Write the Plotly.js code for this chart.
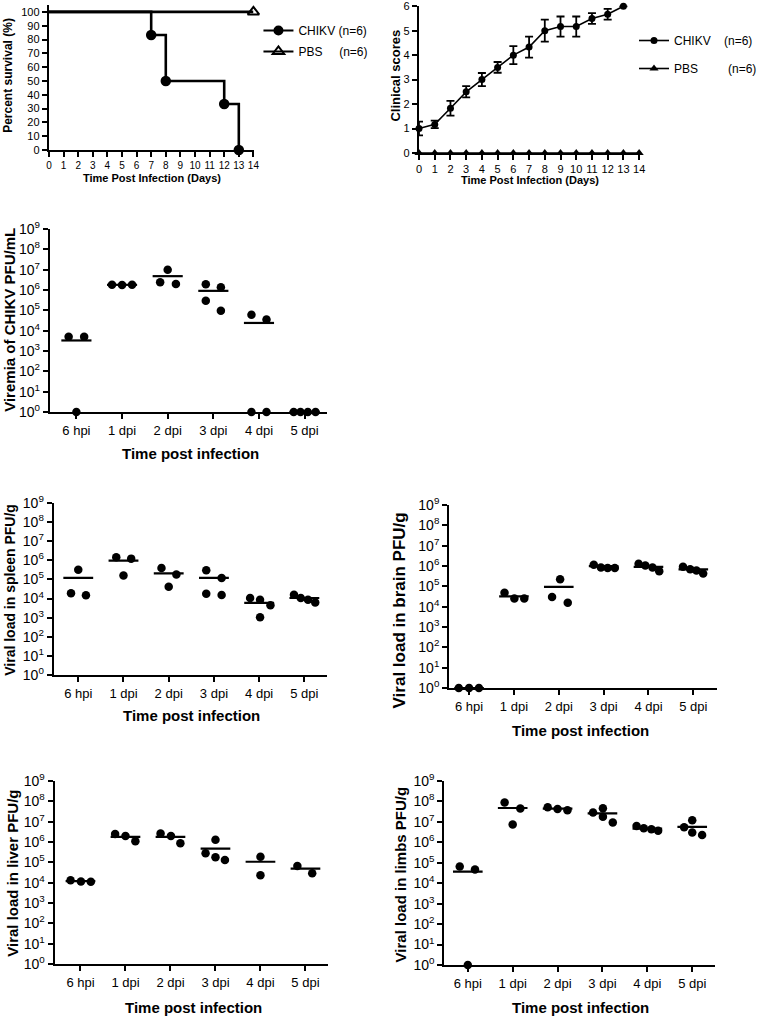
<!DOCTYPE html>
<html><head><meta charset="utf-8">
<script src="https://cdn.plot.ly/plotly-3.0.1.min.js"></script>
<style>html,body{margin:0;padding:0;background:#fff}</style>
</head><body><div id="chart" style="width:762px;height:1017px"></div>
<script>
// ---------------- DATA ----------------
const survDays = [0, 7, 8, 12, 13];
const survCHIKV = [100, 83.3, 50, 33.3, 0];
const survPBSDays = [0, 14];
const survPBS = [100, 100];

const clinDays = [0, 1, 2, 3, 4, 5, 6, 7, 8, 9, 10, 11, 12, 13];
const clinCHIKV = [1.0, 1.17, 1.83, 2.5, 3.0, 3.5, 4.0, 4.33, 5.0, 5.17, 5.17, 5.5, 5.67, 6.0];
const clinCHIKVerr = [0.28, 0.15, 0.3, 0.23, 0.27, 0.22, 0.37, 0.43, 0.45, 0.41, 0.41, 0.22, 0.22, 0];
const clinPBSDays = [0, 1, 2, 3, 4, 5, 6, 7, 8, 9, 10, 11, 12, 13, 14];
const clinPBS = [0, 0, 0, 0, 0, 0, 0, 0, 0, 0, 0, 0, 0, 0, 0];

const categories = ['6 hpi', '1 dpi', '2 dpi', '3 dpi', '4 dpi', '5 dpi'];
const logTickLabels = ['10<sup>0</sup>', '10<sup>1</sup>', '10<sup>2</sup>', '10<sup>3</sup>', '10<sup>4</sup>', '10<sup>5</sup>', '10<sup>6</sup>', '10<sup>7</sup>', '10<sup>8</sup>', '10<sup>9</sup>'];

const viremiaValues = [[5e3, 5e3, 1], [1.8e6, 1.75e6, 1.8e6], [1e7, 2.4e6, 2e6], [1.9e6, 1.35e6, 3e5, 9.6e4], [6e4, 3.5e4, 1, 1], [1, 1, 1, 1]];
const viremiaMeans = [3.3e3, 1.8e6, 4.8e6, 9.1e5, 2.4e4, 1];

const spleenValues = [[3.2e5, 1.9e4, 1.5e4], [1.45e6, 1.23e6, 1.6e5], [4e5, 1.8e5, 4.1e4], [3e5, 1.2e5, 1.8e4, 1.55e4], [1.07e4, 8.7e3, 4.5e3, 1.05e3], [1.6e4, 1.07e4, 8.7e3, 6.3e3]];
const spleenMeans = [1.2e5, 9.7e5, 2.1e5, 1.2e5, 5.9e3, 1.07e4];

const brainValues = [[1, 1, 1], [4.8e4, 2.5e4, 2.5e4], [2.25e5, 3e4, 1.55e4], [1.15e6, 8.5e5, 7.9e5, 7.9e5], [1.3e6, 1.07e6, 8.5e5, 5.6e5], [9.1e5, 7e5, 6e5, 4.3e5]];
const brainMeans = [1, 3.2e4, 9.5e4, 9.8e5, 9.1e5, 6.8e5];

const liverValues = [[1.3e4, 1.15e4, 1.1e4], [2.5e6, 2e6, 1.1e6], [2.6e6, 2e6, 8.6e5], [1.3e6, 2.8e5, 1.8e5, 1.3e5], [1.9e5, 2.3e4], [6.6e4, 2.9e4]];
const liverMeans = [1.18e4, 1.8e6, 1.8e6, 4.7e5, 1.07e5, 4.9e4];

const limbsValues = [[6.5e4, 4.7e4, 1], [8.8e7, 4.5e7, 7.4e6], [5.2e7, 4.3e7, 3.7e7], [2.9e7, 4.6e7, 1.8e7, 9.3e6], [6.3e6, 4.9e6, 4.4e6, 3.7e6], [1.2e7, 5.5e6, 3e6, 2.3e6]];
const limbsMeans = [3.7e4, 4.8e7, 4.5e7, 2.6e7, 4.7e6, 5.7e6];

// ---------------- LAYOUT HELPERS (dot spreading within a column, category units) ----------------
const viremiaSpread = [[-0.17, 0.17, 0], [-0.22, 0, 0.22], [0, -0.165, 0.18], [-0.165, 0.165, -0.165, 0.165], [-0.165, 0.165, -0.165, 0.165], [-0.24, -0.09, 0.07, 0.24]];
const spleenSpread = [[0, -0.16, 0.17], [-0.16, 0.17, 0], [-0.16, 0.17, 0], [-0.17, 0.17, -0.17, 0.17], [-0.2, 0.02, 0.25, 0.02], [-0.23, -0.08, 0.08, 0.24]];
const brainSpread = [[-0.23, 0, 0.22], [-0.21, 0.01, 0.23], [0.03, -0.15, 0.2], [-0.22, -0.06, 0.09, 0.25], [-0.22, -0.07, 0.09, 0.24], [-0.23, -0.07, 0.07, 0.22]];
const liverSpread = [[-0.22, 0.01, 0.23], [-0.23, 0, 0.22], [-0.22, 0.01, 0.22], [0, -0.22, 0, 0.21], [0, 0], [-0.18, 0.15]];
const limbsSpread = [[-0.18, 0.16, 0], [-0.18, 0.17, 0], [-0.22, 0, 0.22], [-0.21, 0.01, 0.01, 0.23], [-0.24, -0.08, 0.09, 0.24], [0, -0.18, 0, 0.22]];

const W = 762, H = 1017;
const FONT = 'Liberation Sans, Arial, Helvetica, sans-serif';
const xd = (a, b) => [a / W, b / W];
const yd = (t, b) => [1 - b / H, 1 - t / H];

const traces = [];

// Survival
traces.push({x: survDays, y: survCHIKV, xaxis: 'x', yaxis: 'y', mode: 'lines', line: {shape: 'hv', color: '#000', width: 2.6}, showlegend: false, cliponaxis: false, hoverinfo: 'skip'});
traces.push({x: survDays.slice(1), y: survCHIKV.slice(1), xaxis: 'x', yaxis: 'y', mode: 'markers', marker: {symbol: 'circle', size: 10.5, color: '#000'}, showlegend: false, cliponaxis: false});
traces.push({x: survPBSDays, y: survPBS, xaxis: 'x', yaxis: 'y', mode: 'lines', line: {color: '#000', width: 2.6}, showlegend: false, cliponaxis: false, hoverinfo: 'skip'});
traces.push({x: survPBSDays.slice(-1), y: survPBS.slice(-1), xaxis: 'x', yaxis: 'y', mode: 'markers', marker: {symbol: 'triangle-up-open', size: 10, color: '#000', line: {width: 2, color: '#000'}}, showlegend: false, cliponaxis: false});
// legend entries for survival
traces.push({x: [null], y: [null], xaxis: 'x', yaxis: 'y', mode: 'lines+markers', name: 'CHIKV (n=6)', legend: 'legend', legendgroup: 'a1', marker: {symbol: 'circle', size: 10, color: '#000'}, line: {color: '#000', width: 2.2}});
traces.push({x: [null], y: [null], xaxis: 'x', yaxis: 'y', mode: 'lines+markers', name: 'PBS\u00a0\u00a0\u00a0\u00a0\u00a0(n=6)', legend: 'legend', legendgroup: 'a2', marker: {symbol: 'triangle-up-open', size: 10, color: '#000', line: {width: 2, color: '#000'}}, line: {color: '#000', width: 2.2}});

// Clinical scores
traces.push({x: clinDays, y: clinCHIKV, xaxis: 'x2', yaxis: 'y2', mode: 'lines+markers', name: 'CHIKV\u00a0\u00a0\u00a0\u00a0(n=6)', legend: 'legend2', legendgroup: 'b1',
  marker: {symbol: 'circle', size: 7, color: '#000'}, line: {color: '#000', width: 1.6},
  error_y: {type: 'data', array: clinCHIKVerr, visible: true, color: '#000', thickness: 1.8, width: 4}, cliponaxis: false});
traces.push({x: clinPBSDays, y: clinPBS, xaxis: 'x2', yaxis: 'y2', mode: 'lines+markers', name: 'PBS\u00a0\u00a0\u00a0\u00a0\u00a0\u00a0\u00a0\u00a0\u00a0(n=6)', legend: 'legend2', legendgroup: 'b2',
  marker: {symbol: 'triangle-up', size: 8, color: '#000'}, line: {color: '#000', width: 1.6}, cliponaxis: false});

// Scatter panels
function panel(values, means, spread, xa, ya) {
  const px = [], py = [], mx = [], my = [];
  values.forEach((grp, g) => grp.forEach((v, k) => { px.push(g + spread[g][k]); py.push(v); }));
  means.forEach((m, g) => { mx.push(g - 0.33, g + 0.33, null); my.push(m, m, null); });
  traces.push({x: mx, y: my, xaxis: xa, yaxis: ya, mode: 'lines', line: {color: '#000', width: 2.2}, showlegend: false, cliponaxis: false, hoverinfo: 'skip'});
  traces.push({x: px, y: py, xaxis: xa, yaxis: ya, mode: 'markers', marker: {symbol: 'circle', size: 8.5, color: '#000'}, showlegend: false, cliponaxis: false});
}
panel(viremiaValues, viremiaMeans, viremiaSpread, 'x3', 'y3');
panel(spleenValues, spleenMeans, spleenSpread, 'x4', 'y4');
panel(brainValues, brainMeans, brainSpread, 'x5', 'y5');
panel(liverValues, liverMeans, liverSpread, 'x6', 'y6');
panel(limbsValues, limbsMeans, limbsSpread, 'x7', 'y7');

const axBase = {showgrid: false, zeroline: false, showline: true, linecolor: '#000', linewidth: 2.2, ticks: 'outside', ticklen: 5, tickwidth: 2, tickcolor: '#000', fixedrange: true, ticklabeloverflow: 'allow'};
const logTicks = [1, 10, 100, 1e3, 1e4, 1e5, 1e6, 1e7, 1e8, 1e9];
function logY(dom, anchor) {
  return Object.assign({}, axBase, {domain: dom, anchor: anchor, type: 'log', range: [0, 9.001], tickvals: logTicks, ticktext: logTickLabels, tickfont: {size: 14, color: '#000'}});
}
function catX(dom, range, anchor) {
  return Object.assign({}, axBase, {domain: dom, anchor: anchor, range: range, tickvals: [0, 1, 2, 3, 4, 5], ticktext: categories, tickfont: {size: 13, color: '#000'}});
}

function ann(text, x, y, size, angle) {
  return {text: '<b>' + text + '</b>', x: x / W, y: 1 - y / H, xref: 'paper', yref: 'paper', xanchor: 'center', yanchor: 'middle', showarrow: false, textangle: angle || 0, font: {size: size, color: '#000', family: FONT}};
}

const layout = {
  width: W, height: H, margin: {l: 0, r: 0, t: 0, b: 0}, paper_bgcolor: '#fff', plot_bgcolor: 'rgba(0,0,0,0)',
  font: {family: FONT, color: '#000'}, showlegend: true, hovermode: false,
  xaxis: Object.assign({}, axBase, {domain: xd(50, 259), anchor: 'y', range: [0, 14.01], tickvals: [0, 1, 2, 3, 4, 5, 6, 7, 8, 9, 10, 11, 12, 13, 14], tickfont: {size: 10}}),
  yaxis: Object.assign({}, axBase, {domain: yd(5, 150), anchor: 'x', range: [0, 105], tickvals: [0, 10, 20, 30, 40, 50, 60, 70, 80, 90, 100], tickfont: {size: 11}}),
  xaxis2: Object.assign({}, axBase, {domain: xd(428, 653), anchor: 'y2', range: [0, 14.01], tickvals: [0, 1, 2, 3, 4, 5, 6, 7, 8, 9, 10, 11, 12, 13, 14], tickfont: {size: 11}}),
  yaxis2: Object.assign({}, axBase, {domain: yd(5.5, 153), anchor: 'x2', range: [0, 6.03], tickvals: [0, 1, 2, 3, 4, 5, 6], tickfont: {size: 11}}),
  xaxis3: catX(xd(51, 334), [-0.58, 5.49], 'y3'), yaxis3: logY(yd(229, 412), 'x3'),
  xaxis4: catX(xd(55, 334), [-0.54, 5.5], 'y4'), yaxis4: logY(yd(503, 675), 'x4'),
  xaxis5: catX(xd(459, 732), [-0.44, 5.52], 'y5'), yaxis5: logY(yd(505, 688), 'x5'),
  xaxis6: catX(xd(56, 335), [-0.57, 5.5], 'y6'), yaxis6: logY(yd(781, 964), 'x6'),
  xaxis7: catX(xd(454, 730), [-0.52, 5.5], 'y7'), yaxis7: logY(yd(781, 965), 'x7'),
  legend: {x: 264 / W, y: 1 - 16 / H, xanchor: 'left', yanchor: 'top', bgcolor: 'rgba(0,0,0,0)', font: {size: 12, color: '#000'}, traceorder: 'grouped', tracegroupgap: 2},
  legend2: {x: 648 / W, y: 1 - 26 / H, xanchor: 'left', yanchor: 'top', bgcolor: 'rgba(0,0,0,0)', font: {size: 12, color: '#000'}, traceorder: 'grouped', tracegroupgap: 9},
  annotations: [
    ann('Percent survival (%)', 8, 75, 12, -90),
    ann('Time Post Infection (Days)', 155, 178, 11),
    ann('Clinical scores', 403, 76, 13, -90),
    ann('Time Post Infection (Days)', 541, 180, 11),
    ann('Viremia of CHIKV PFU/mL', 10, 320, 15, -90),
    ann('Time post infection', 195, 454, 15),
    ann('Viral load in spleen PFU/g', 10, 590, 14, -90),
    ann('Time post infection', 196, 715, 15),
    ann('Viral load in brain PFU/g', 408, 610, 17, -90),
    ann('Time post infection', 593, 730, 15),
    ann('Viral load in liver PFU/g', 12, 873, 15, -90),
    ann('Time post infection', 198, 1007, 15),
    ann('Viral load in limbs PFU/g', 409, 874, 15, -90),
    ann('Time post infection', 593, 1007, 15)
  ]
};

Plotly.newPlot('chart', traces, layout, {staticPlot: true, displayModeBar: false}).then(function (gd) {
  // give superscript tspans an absolute font size (same look as Plotly's 70%)
  gd.querySelectorAll('text').forEach(function (t) {
    const fs = parseFloat(window.getComputedStyle(t).fontSize);
    t.querySelectorAll('tspan').forEach(function (ts) {
      const s = ts.style.fontSize;
      if (s && s.indexOf('%') > -1) ts.style.fontSize = (fs * parseFloat(s) / 100) + 'px';
      else if (!s) ts.style.fontSize = fs + 'px';
    });
  });
});
</script></body></html>
